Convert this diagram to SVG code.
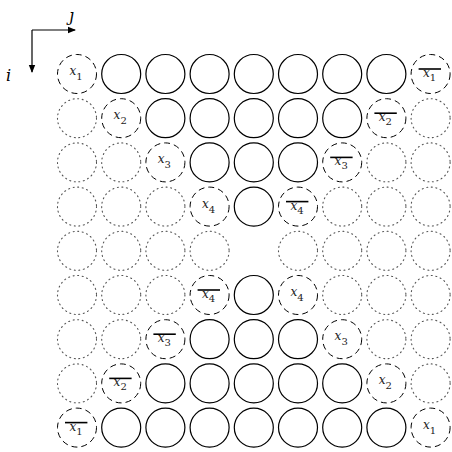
<svg xmlns="http://www.w3.org/2000/svg" width="452" height="452" viewBox="0 0 452 452">
<style>
.s{fill:none;stroke:#000;stroke-width:1.2}
.d{fill:none;stroke:#000;stroke-width:1;stroke-dasharray:6 4}
.o{fill:none;stroke:#555;stroke-width:1.1;stroke-dasharray:1 3.6;stroke-linecap:round}
text.t{font-family:"DejaVu Serif","Liberation Serif",serif;font-style:italic;font-size:12px;fill:#222;text-anchor:middle}
text.t tspan{font-style:normal;font-size:10px}
.b{stroke:#000;stroke-width:1.6}
.ax{stroke:#000;stroke-width:1.2;fill:none}
</style>
<defs>
<marker id="ah" markerWidth="8" markerHeight="8" refX="7" refY="4" orient="auto" markerUnits="userSpaceOnUse"><path d="M0,0.8 L8,4 L0,7.2 Z" fill="#000"/></marker>
</defs>
<g id="axes">
<path class="ax" d="M32,30 H75" marker-end="url(#ah)"/>
<path class="ax" d="M32,30 V72" marker-end="url(#ah)"/>
<text x="69" y="21" font-family="DejaVu Serif,serif" font-style="italic" font-size="16">ȷ</text>
<text x="6" y="81" font-family="DejaVu Serif,serif" font-style="italic" font-size="16">i</text>
</g>
<g id="row1">
<circle class="d" cx="77" cy="74" r="19.5"/><text class="t" x="76" y="75">x<tspan dy="5">1</tspan></text>
<circle class="s" cx="121.2" cy="74" r="19.5"/><circle class="s" cx="165.4" cy="74" r="19.5"/><circle class="s" cx="209.6" cy="74" r="19.5"/><circle class="s" cx="253.8" cy="74" r="19.5"/><circle class="s" cx="298" cy="74" r="19.5"/><circle class="s" cx="342.2" cy="74" r="19.5"/><circle class="s" cx="386.4" cy="74" r="19.5"/>
<circle class="d" cx="430.6" cy="74" r="19.5"/><line class="b" x1="418.6" y1="69" x2="441" y2="69"/><text class="t" x="429.6" y="77">x<tspan dy="4">1</tspan></text>
</g>
<g id="row2">
<circle class="o" cx="77" cy="118.2" r="19.5"/>
<circle class="d" cx="121.2" cy="118.2" r="19.5"/><text class="t" x="120.2" y="119.2">x<tspan dy="5">2</tspan></text>
<circle class="s" cx="165.4" cy="118.2" r="19.5"/><circle class="s" cx="209.6" cy="118.2" r="19.5"/><circle class="s" cx="253.8" cy="118.2" r="19.5"/><circle class="s" cx="298" cy="118.2" r="19.5"/><circle class="s" cx="342.2" cy="118.2" r="19.5"/>
<circle class="d" cx="386.4" cy="118.2" r="19.5"/><line class="b" x1="374.4" y1="113.2" x2="396.8" y2="113.2"/><text class="t" x="385.4" y="121.2">x<tspan dy="4">2</tspan></text>
<circle class="o" cx="430.6" cy="118.2" r="19.5"/>
</g>
<g id="row3">
<circle class="o" cx="77" cy="162.4" r="19.5"/><circle class="o" cx="121.2" cy="162.4" r="19.5"/>
<circle class="d" cx="165.4" cy="162.4" r="19.5"/><text class="t" x="164.4" y="163.4">x<tspan dy="5">3</tspan></text>
<circle class="s" cx="209.6" cy="162.4" r="19.5"/><circle class="s" cx="253.8" cy="162.4" r="19.5"/><circle class="s" cx="298" cy="162.4" r="19.5"/>
<circle class="d" cx="342.2" cy="162.4" r="19.5"/><line class="b" x1="330.2" y1="157.4" x2="352.6" y2="157.4"/><text class="t" x="341.2" y="165.4">x<tspan dy="4">3</tspan></text>
<circle class="o" cx="386.4" cy="162.4" r="19.5"/><circle class="o" cx="430.6" cy="162.4" r="19.5"/>
</g>
<g id="row4">
<circle class="o" cx="77" cy="206.6" r="19.5"/><circle class="o" cx="121.2" cy="206.6" r="19.5"/><circle class="o" cx="165.4" cy="206.6" r="19.5"/>
<circle class="d" cx="209.6" cy="206.6" r="19.5"/><text class="t" x="208.6" y="207.6">x<tspan dy="5">4</tspan></text>
<circle class="s" cx="253.8" cy="206.6" r="19.5"/>
<circle class="d" cx="298" cy="206.6" r="19.5"/><line class="b" x1="286" y1="201.6" x2="308.4" y2="201.6"/><text class="t" x="297" y="209.6">x<tspan dy="4">4</tspan></text>
<circle class="o" cx="342.2" cy="206.6" r="19.5"/><circle class="o" cx="386.4" cy="206.6" r="19.5"/><circle class="o" cx="430.6" cy="206.6" r="19.5"/>
</g>
<g id="row5">
<circle class="o" cx="77" cy="250.8" r="19.5"/><circle class="o" cx="121.2" cy="250.8" r="19.5"/><circle class="o" cx="165.4" cy="250.8" r="19.5"/><circle class="o" cx="209.6" cy="250.8" r="19.5"/>
<circle class="o" cx="298" cy="250.8" r="19.5"/><circle class="o" cx="342.2" cy="250.8" r="19.5"/><circle class="o" cx="386.4" cy="250.8" r="19.5"/><circle class="o" cx="430.6" cy="250.8" r="19.5"/>
</g>
<g id="row6">
<circle class="o" cx="77" cy="295" r="19.5"/><circle class="o" cx="121.2" cy="295" r="19.5"/><circle class="o" cx="165.4" cy="295" r="19.5"/>
<circle class="d" cx="209.6" cy="295" r="19.5"/><line class="b" x1="197.6" y1="290" x2="220" y2="290"/><text class="t" x="208.6" y="298">x<tspan dy="4">4</tspan></text>
<circle class="s" cx="253.8" cy="295" r="19.5"/>
<circle class="d" cx="298" cy="295" r="19.5"/><text class="t" x="297" y="296">x<tspan dy="5">4</tspan></text>
<circle class="o" cx="342.2" cy="295" r="19.5"/><circle class="o" cx="386.4" cy="295" r="19.5"/><circle class="o" cx="430.6" cy="295" r="19.5"/>
</g>
<g id="row7">
<circle class="o" cx="77" cy="339.2" r="19.5"/><circle class="o" cx="121.2" cy="339.2" r="19.5"/>
<circle class="d" cx="165.4" cy="339.2" r="19.5"/><line class="b" x1="153.4" y1="334.2" x2="175.8" y2="334.2"/><text class="t" x="164.4" y="342.2">x<tspan dy="4">3</tspan></text>
<circle class="s" cx="209.6" cy="339.2" r="19.5"/><circle class="s" cx="253.8" cy="339.2" r="19.5"/><circle class="s" cx="298" cy="339.2" r="19.5"/>
<circle class="d" cx="342.2" cy="339.2" r="19.5"/><text class="t" x="341.2" y="340.2">x<tspan dy="5">3</tspan></text>
<circle class="o" cx="386.4" cy="339.2" r="19.5"/><circle class="o" cx="430.6" cy="339.2" r="19.5"/>
</g>
<g id="row8">
<circle class="o" cx="77" cy="383.4" r="19.5"/>
<circle class="d" cx="121.2" cy="383.4" r="19.5"/><line class="b" x1="109.2" y1="378.4" x2="131.6" y2="378.4"/><text class="t" x="120.2" y="386.4">x<tspan dy="4">2</tspan></text>
<circle class="s" cx="165.4" cy="383.4" r="19.5"/><circle class="s" cx="209.6" cy="383.4" r="19.5"/><circle class="s" cx="253.8" cy="383.4" r="19.5"/><circle class="s" cx="298" cy="383.4" r="19.5"/><circle class="s" cx="342.2" cy="383.4" r="19.5"/>
<circle class="d" cx="386.4" cy="383.4" r="19.5"/><text class="t" x="385.4" y="384.4">x<tspan dy="5">2</tspan></text>
<circle class="o" cx="430.6" cy="383.4" r="19.5"/>
</g>
<g id="row9">
<circle class="d" cx="77" cy="427.6" r="19.5"/><line class="b" x1="65" y1="422.6" x2="87.4" y2="422.6"/><text class="t" x="76" y="430.6">x<tspan dy="4">1</tspan></text>
<circle class="s" cx="121.2" cy="427.6" r="19.5"/><circle class="s" cx="165.4" cy="427.6" r="19.5"/><circle class="s" cx="209.6" cy="427.6" r="19.5"/><circle class="s" cx="253.8" cy="427.6" r="19.5"/><circle class="s" cx="298" cy="427.6" r="19.5"/><circle class="s" cx="342.2" cy="427.6" r="19.5"/><circle class="s" cx="386.4" cy="427.6" r="19.5"/>
<circle class="d" cx="430.6" cy="427.6" r="19.5"/><text class="t" x="429.6" y="428.6">x<tspan dy="5">1</tspan></text>
</g>
</svg>
